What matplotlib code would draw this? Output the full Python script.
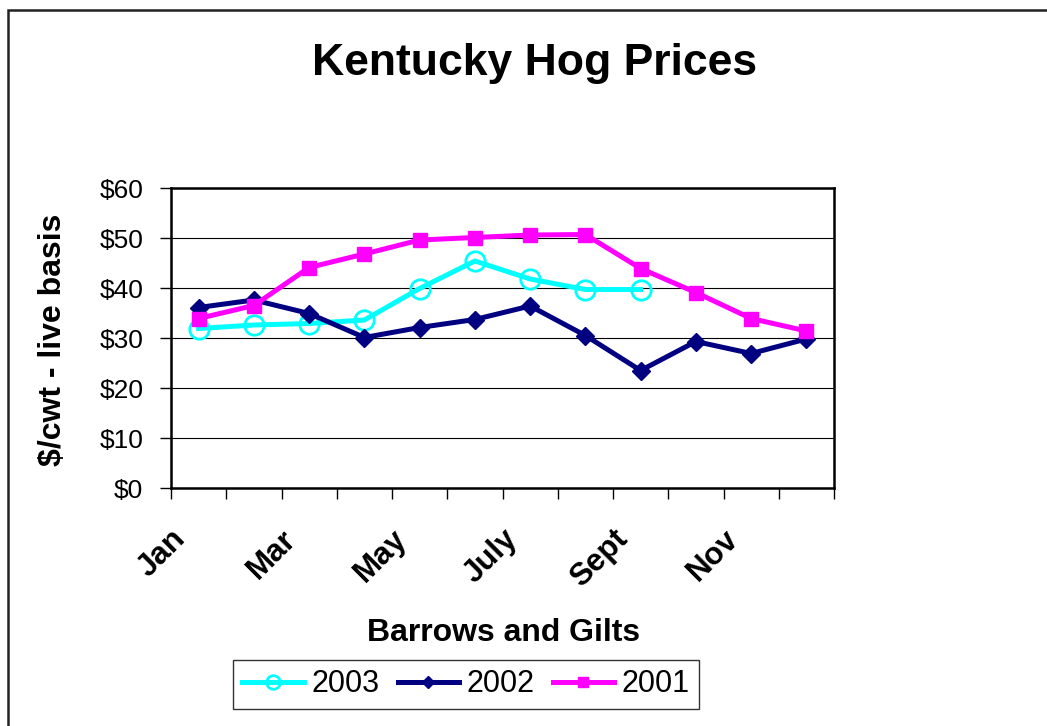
import numpy as np
import matplotlib
matplotlib.use("Agg")
import matplotlib.pyplot as plt
import matplotlib.transforms as mtransforms
from matplotlib.patches import Rectangle

plt.rcParams['font.family'] = ['Liberation Sans', 'DejaVu Sans']

# Datos
months = ['Jan', 'Feb', 'Mar', 'Apr', 'May', 'June', 'July', 'Aug', 'Sept', 'Oct', 'Nov', 'Dec']
shown_labels = ['Jan', 'Mar', 'May', 'July', 'Sept', 'Nov']
prices_2003 = [31.9, 32.6, 32.9, 33.6, 39.9, 45.4, 41.8, 39.7, 39.7]
prices_2002 = [36.1, 37.6, 34.9, 30.1, 32.1, 33.7, 36.4, 30.5, 23.5, 29.3, 26.9, 29.8]
prices_2001 = [33.9, 36.5, 44.1, 46.8, 49.6, 50.1, 50.6, 50.7, 43.9, 39.1, 33.9, 31.4]
y_ticks = [0, 10, 20, 30, 40, 50, 60]

W, H = 1047, 726
fig = plt.figure(figsize=(W / 100, H / 100), dpi=100)
ax = fig.add_axes([171 / W, 1 - 488 / H, (834 - 171) / W, (488 - 188) / H])

x = np.arange(len(months))
ax.plot(x[:len(prices_2003)], prices_2003, color='#00FFFF', lw=3.6, marker='o',
        ms=14, mfc='none', mec='#00FFFF', mew=2, label='2003')
ax.plot(x, prices_2002, color='#000080', lw=3.6, marker='D', ms=9, label='2002')
ax.plot(x, prices_2001, color='#FF00FF', lw=3.6, marker='s', ms=10, label='2001')

ax.set_xlim(-0.5, 11.5)
ax.set_ylim(0, 60)
ax.set_yticks(y_ticks)
ax.set_yticklabels(['$%d' % v for v in y_ticks], fontsize=19)
ax.tick_params(axis='y', direction='out', length=8, width=1, pad=12)
ax.yaxis.grid(True, color='black', lw=0.8)
ax.set_axisbelow(True)

# ticks en los bordes de cada mes, etiquetas cada dos meses
ax.set_xticks(np.arange(-0.5, 12, 1))
ax.set_xticklabels([])
ax.tick_params(axis='x', which='major', direction='out', length=8, width=1)
ax.set_xticks(x[::2], minor=True)
ax.set_xticklabels(shown_labels, minor=True, fontsize=22.5, fontweight='bold',
                   rotation=45, ha='right', va='top', rotation_mode='anchor')
ax.tick_params(axis='x', which='minor', length=0, pad=26)
offset = mtransforms.ScaledTranslation(-28 / 100, 0, fig.dpi_scale_trans)
for lbl in ax.get_xticklabels(minor=True):
    lbl.set_transform(lbl.get_transform() + offset)

for sp in ax.spines.values():
    sp.set_linewidth(1.8)
    sp.set_color('black')

fig.text(535 / W, 1 - 63 / H, 'Kentucky Hog Prices', fontsize=32, fontweight='bold',
         ha='center', va='center')
fig.text(504 / W, 1 - 633 / H, 'Barrows and Gilts', fontsize=23, fontweight='bold',
         ha='center', va='center')
fig.text(53 / W, 1 - 340 / H, '$/cwt - live basis', fontsize=23, fontweight='bold',
         ha='center', va='center', rotation=90)

leg = fig.legend(loc='center', bbox_to_anchor=(466 / W, 1 - 684.5 / H), ncol=3,
                 fontsize=22, frameon=True, fancybox=False, handlelength=2.0,
                 handletextpad=0.25, columnspacing=0.6, borderpad=0.3,
                 markerscale=0.7)
leg.get_frame().set_edgecolor('black')
leg.get_frame().set_linewidth(1.0)

# marco exterior
fig.add_artist(Rectangle((8 / W, -0.1), 2, 1 - 10 / H + 0.1, transform=fig.transFigure,
                         fill=False, edgecolor='#222222', lw=1.8))

fig.savefig('out.png', dpi=100)
